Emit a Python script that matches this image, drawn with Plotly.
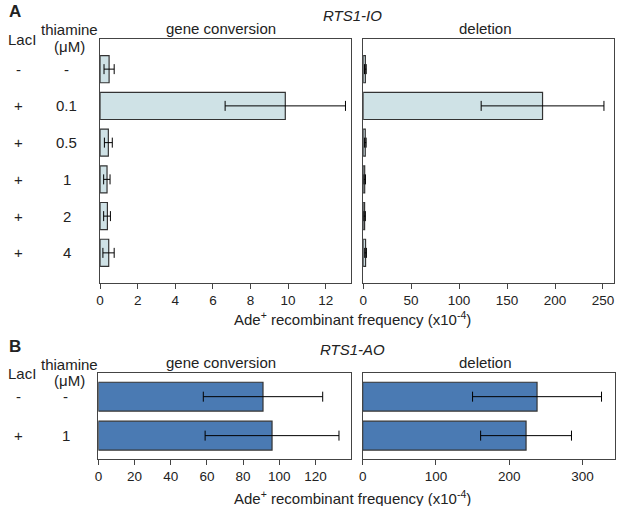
import plotly.graph_objects as go

# panel A: RTS1-IO
a_laci = ["-", "+", "+", "+", "+", "+"]
a_thiamine = ["-", "0.1", "0.5", "1", "2", "4"]
a_gc = [0.48, 9.85, 0.44, 0.37, 0.39, 0.46]
a_gc_lo = [0.27, 3.2, 0.21, 0.18, 0.2, 0.31]
a_gc_hi = [0.27, 3.2, 0.21, 0.16, 0.16, 0.29]
a_del = [2.3, 187, 2.2, 1.6, 1.5, 2.5]
a_del_lo = [0.9, 64, 0.9, 0.8, 0.8, 0.9]
a_del_hi = [0.9, 64, 0.9, 0.8, 0.8, 0.9]

# panel B: RTS1-AO
b_laci = ["-", "+"]
b_thiamine = ["-", "1"]
b_gc = [91, 96]
b_gc_lo = [33, 37]
b_gc_hi = [33, 37]
b_del = [238, 223]
b_del_lo = [88, 62]
b_del_hi = [88, 62]

W, H = 617, 506
FONT = "Liberation Sans, Arial, sans-serif"
LIGHT = "#cfe2e6"
DARK = "#4a7ab3"
EDGE = "#333333"
TXT = 15


def px(x):
    return x / W


def py(y):
    return 1 - y / H


fig = go.Figure()


def add_bars(vals, lo, hi, cats, color, xa, ya):
    fig.add_trace(
        go.Bar(
            x=vals,
            y=cats,
            orientation="h",
            width=0.74,
            marker=dict(color=color, line=dict(color=EDGE, width=1.2)),
            error_x=dict(
                type="data",
                symmetric=False,
                array=hi,
                arrayminus=lo,
                color="black",
                thickness=1,
                width=5,
            ),
            xaxis=xa,
            yaxis=ya,
            showlegend=False,
            hoverinfo="skip",
        )
    )


add_bars(a_gc, a_gc_lo, a_gc_hi, a_thiamine, LIGHT, "x", "y")
add_bars(a_del, a_del_lo, a_del_hi, a_thiamine, LIGHT, "x2", "y2")
add_bars(b_gc, b_gc_lo, b_gc_hi, b_thiamine, DARK, "x3", "y3")
add_bars(b_del, b_del_lo, b_del_hi, b_thiamine, DARK, "x4", "y4")

xbase = dict(
    showline=True,
    linecolor="#444444",
    linewidth=1,
    mirror=True,
    ticks="outside",
    ticklen=5,
    tickcolor="#444444",
    showgrid=False,
    zeroline=False,
    tickfont=dict(family=FONT, size=13.5, color="#222222"),
)
ybase = dict(
    showline=True,
    linecolor="#444444",
    linewidth=1,
    mirror=True,
    showticklabels=False,
    ticks="",
    showgrid=False,
    zeroline=False,
    type="category",
)

ya_dom = [py(283), py(39)]
yb_dom = [py(459), py(373.3)]

fig.update_layout(
    width=W,
    height=H,
    margin=dict(l=0, r=0, t=0, b=0),
    plot_bgcolor="white",
    paper_bgcolor="white",
    xaxis=dict(xbase, domain=[px(96.7), px(349)], range=[0, 13.33], dtick=2, anchor="y"),
    yaxis=dict(ybase, domain=ya_dom, range=[5.82, -0.82], anchor="x"),
    xaxis2=dict(xbase, domain=[px(361.5), px(614)], range=[0, 261.5], dtick=50, anchor="y2"),
    yaxis2=dict(ybase, domain=ya_dom, range=[5.82, -0.82], anchor="x2"),
    xaxis3=dict(xbase, domain=[px(95), px(349)], range=[0, 139.5], dtick=20, anchor="y3"),
    yaxis3=dict(ybase, domain=yb_dom, range=[1.6, -0.6], anchor="x3"),
    xaxis4=dict(xbase, domain=[px(361), px(614.7)], range=[0, 344], dtick=100, anchor="y4"),
    yaxis4=dict(ybase, domain=yb_dom, range=[1.6, -0.6], anchor="x4"),
)


def text(x, y, s, size=TXT, yref="paper", xanchor="center"):
    fig.add_annotation(
        x=x,
        y=y,
        xref="paper",
        yref=yref,
        text=s,
        showarrow=False,
        font=dict(family=FONT, size=size, color="#222222"),
        xanchor=xanchor,
        yanchor="middle",
    )


# row labels (placed by category index)
for i, (lac, th) in enumerate(zip(a_laci, a_thiamine)):
    text(px(15), i, lac, yref="y")
    text(px(63), i, th, yref="y")
for i, (lac, th) in enumerate(zip(b_laci, b_thiamine)):
    text(px(15), i, lac, yref="y3")
    text(px(62), i, th, yref="y3")

for top, letter in [(0, "A"), (334, "B")]:
    text(px(3), py(top + 12), "<b>" + letter + "</b>", size=17, xanchor="left")
    text(px(18), py(top + 39), "LacI")
    text(px(66), py(top + 30), "thiamine")
    text(px(66), py(top + 46), "(μM)")
    text(px(218), py(top + 28), "gene conversion")
    text(px(485), py(top + 28), "deletion")

text(px(351), py(15), "<i>RTS1-IO</i>")
text(px(351), py(349), "<i>RTS1-AO</i>")

axis_title = "Ade<sup>+</sup> recombinant frequency (x10<sup>-4</sup>)"
text(px(351), py(318), axis_title)
text(px(351), py(497), axis_title)

fig.write_html(
    "out.html",
    config={"displayModeBar": False},
    post_script="document.body.style.margin='0';",
)
